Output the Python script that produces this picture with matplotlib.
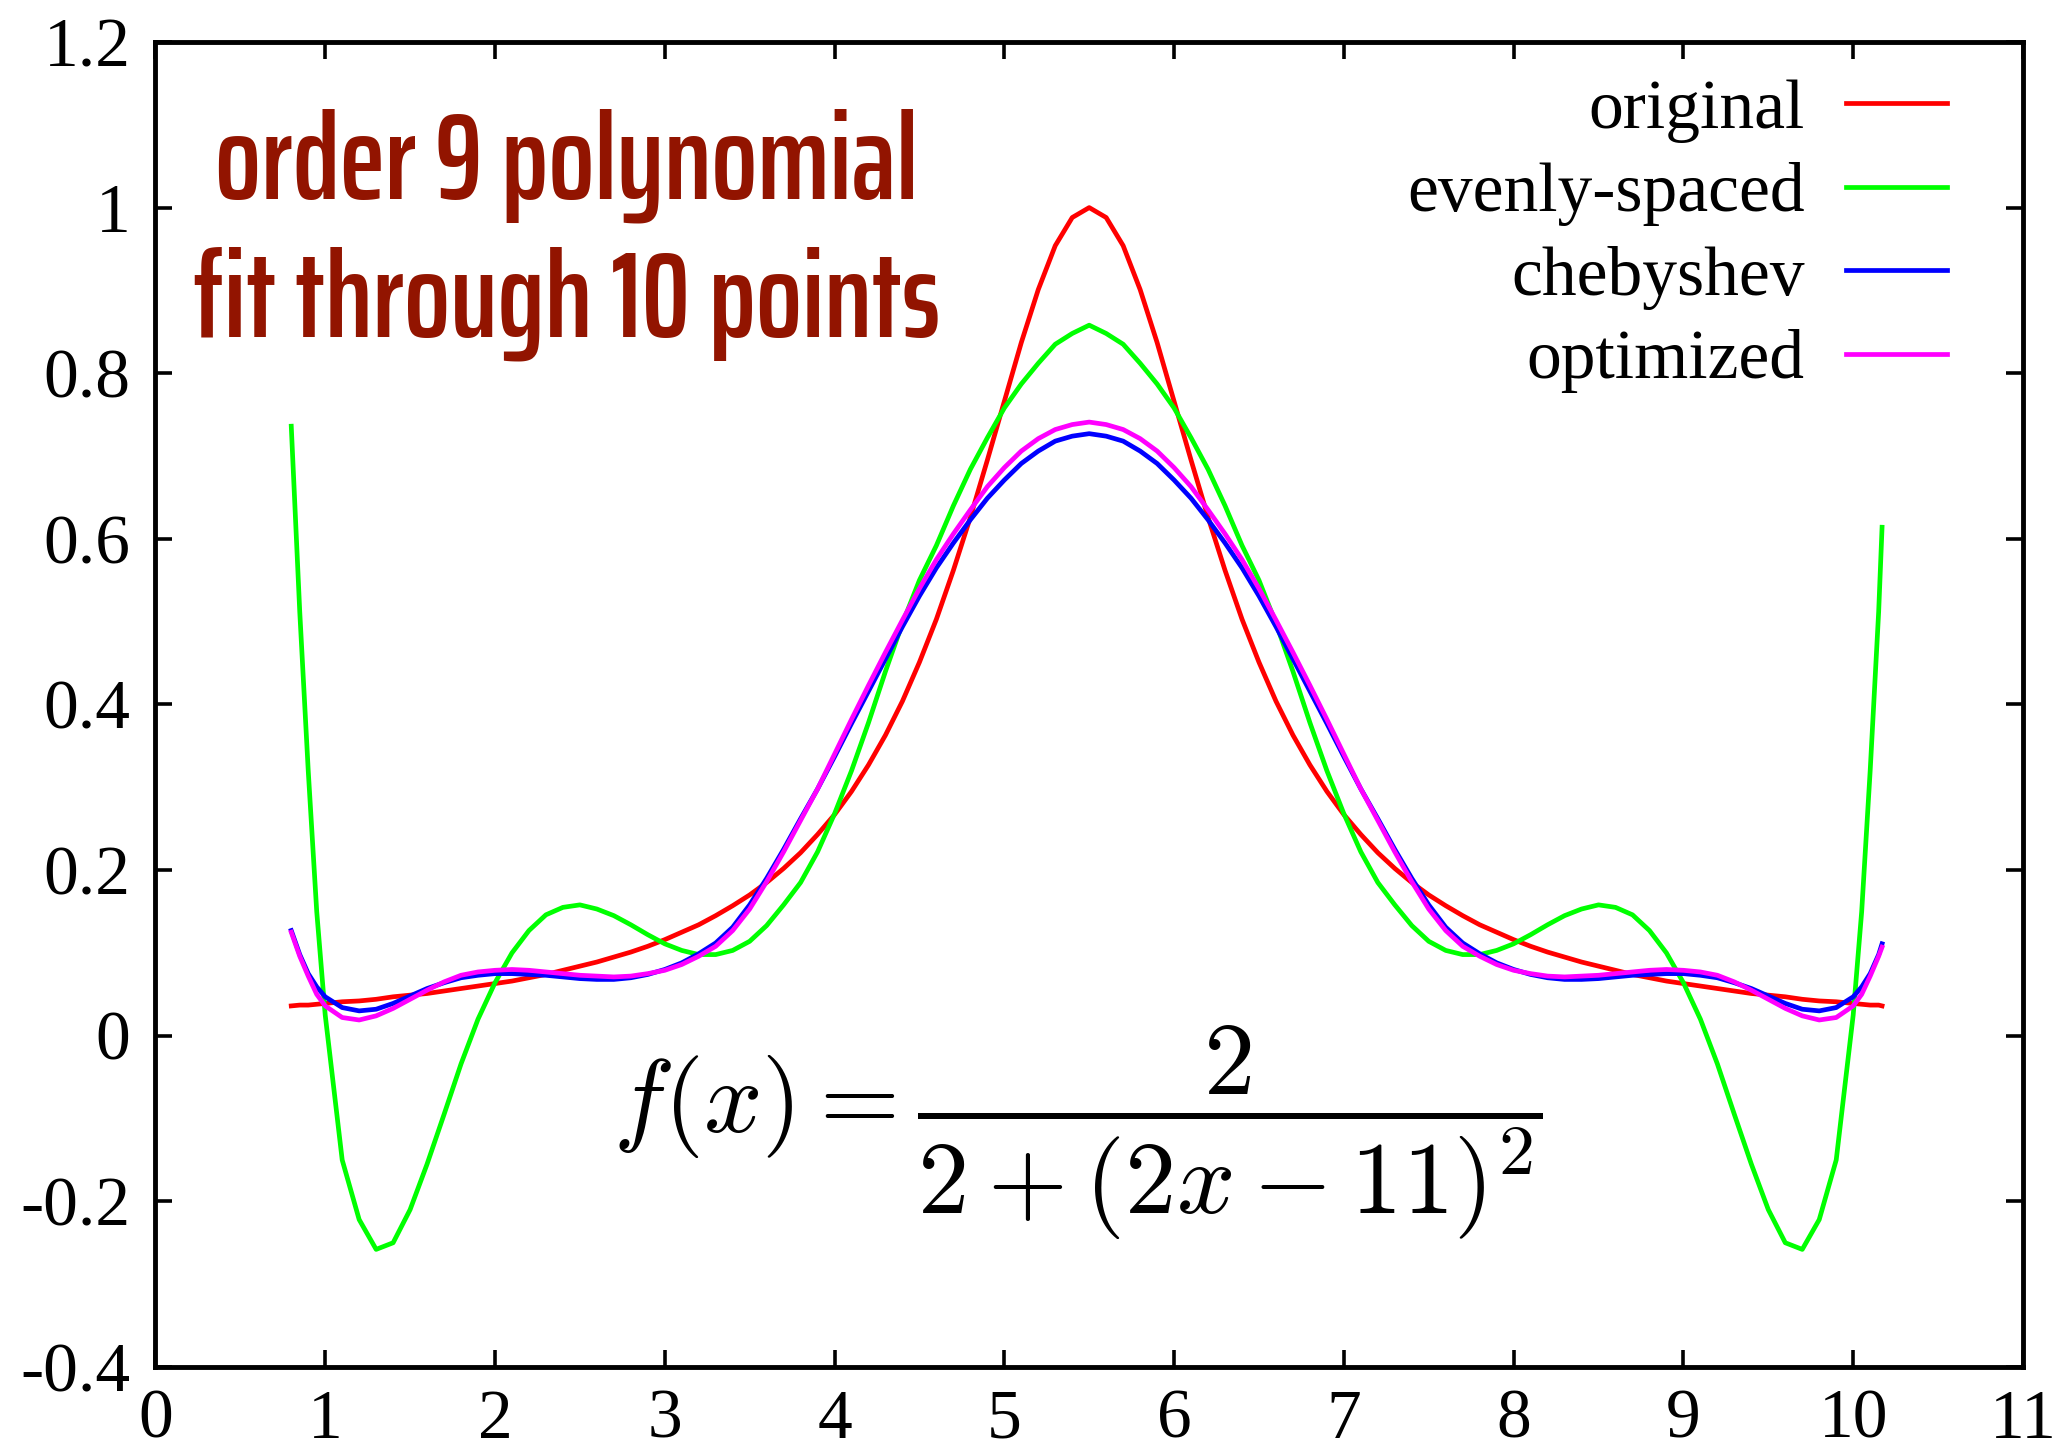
import matplotlib
matplotlib.use('Agg')
import matplotlib.pyplot as plt
import numpy as np
from matplotlib.ticker import FormatStrFormatter

# sample positions (denser near the steep ends)
x = np.r_[0.8, 0.85, 0.9, 0.95, np.round(np.arange(1.0, 10.01, 0.1), 2), 10.05, 10.1, 10.15, 10.17]

original = [
    0.036, 0.037, 0.037, 0.038,
    0.039, 0.041, 0.042, 0.044, 0.047, 0.049, 0.051, 0.054, 0.057, 0.060,
    0.063, 0.066, 0.070, 0.074, 0.079, 0.084, 0.089, 0.095, 0.101, 0.108,
    0.116, 0.125, 0.134, 0.145, 0.157, 0.170, 0.185, 0.202, 0.221, 0.243,
    0.267, 0.295, 0.327, 0.363, 0.404, 0.451, 0.503, 0.562, 0.626, 0.695,
    0.766, 0.837, 0.901, 0.954, 0.988, 1.000,
    0.988, 0.954, 0.901, 0.837, 0.766, 0.695, 0.626, 0.562, 0.503, 0.451,
    0.404, 0.363, 0.327, 0.295, 0.267, 0.243, 0.221, 0.202, 0.185, 0.170,
    0.157, 0.145, 0.134, 0.125, 0.116, 0.108, 0.101, 0.095, 0.089, 0.084,
    0.079, 0.074, 0.070, 0.066, 0.063, 0.060, 0.057, 0.054, 0.051, 0.049,
    0.047, 0.044, 0.042, 0.041, 0.039,
    0.038, 0.037, 0.037, 0.036,
]

evenly_spaced = [
    0.736, 0.512, 0.320, 0.150,
    0.025, -0.150, -0.222, -0.258, -0.250, -0.210, -0.155, -0.095, -0.034, 0.020,
    0.064, 0.100, 0.127, 0.146, 0.155, 0.158, 0.153, 0.145, 0.134, 0.122,
    0.111, 0.103, 0.098, 0.098, 0.103, 0.114, 0.133, 0.158, 0.185, 0.222,
    0.268, 0.320, 0.378, 0.440, 0.498, 0.550, 0.592, 0.640, 0.684, 0.722,
    0.758, 0.787, 0.812, 0.835, 0.848, 0.858,
    0.848, 0.835, 0.812, 0.787, 0.758, 0.722, 0.684, 0.640, 0.592, 0.550,
    0.498, 0.440, 0.378, 0.320, 0.268, 0.222, 0.185, 0.158, 0.133, 0.114,
    0.103, 0.098, 0.098, 0.103, 0.111, 0.122, 0.134, 0.145, 0.153, 0.158,
    0.155, 0.146, 0.127, 0.100, 0.064, 0.020, -0.034, -0.095, -0.155, -0.210,
    -0.250, -0.258, -0.222, -0.150, 0.025,
    0.150, 0.320, 0.512, 0.614,
]

chebyshev = [
    0.127, 0.098, 0.075, 0.059,
    0.047, 0.034, 0.030, 0.032, 0.039, 0.048, 0.057, 0.064, 0.070, 0.073,
    0.075, 0.075, 0.074, 0.073, 0.071, 0.069, 0.068, 0.068, 0.070, 0.074,
    0.080, 0.088, 0.099, 0.112, 0.131, 0.158, 0.190, 0.225, 0.262, 0.298,
    0.337, 0.377, 0.416, 0.455, 0.494, 0.531, 0.565, 0.595, 0.623, 0.649,
    0.671, 0.691, 0.706, 0.718, 0.724, 0.727,
    0.724, 0.718, 0.706, 0.691, 0.671, 0.649, 0.623, 0.595, 0.565, 0.531,
    0.494, 0.455, 0.416, 0.377, 0.337, 0.298, 0.262, 0.225, 0.190, 0.158,
    0.131, 0.112, 0.099, 0.088, 0.080, 0.074, 0.070, 0.068, 0.068, 0.069,
    0.071, 0.073, 0.074, 0.075, 0.075, 0.073, 0.070, 0.064, 0.057, 0.048,
    0.039, 0.032, 0.030, 0.034, 0.047,
    0.059, 0.075, 0.098, 0.111,
]

optimized = [
    0.125, 0.096, 0.072, 0.050,
    0.036, 0.022, 0.019, 0.024, 0.033, 0.044, 0.055, 0.065, 0.073, 0.077,
    0.079, 0.080, 0.079, 0.077, 0.075, 0.073, 0.072, 0.071, 0.072, 0.075,
    0.079, 0.086, 0.096, 0.108, 0.127, 0.153, 0.186, 0.222, 0.260, 0.298,
    0.340, 0.382, 0.423, 0.463, 0.502, 0.540, 0.575, 0.606, 0.635, 0.663,
    0.686, 0.706, 0.721, 0.732, 0.738, 0.741,
    0.738, 0.732, 0.721, 0.706, 0.686, 0.663, 0.635, 0.606, 0.575, 0.540,
    0.502, 0.463, 0.423, 0.382, 0.340, 0.298, 0.260, 0.222, 0.186, 0.153,
    0.127, 0.108, 0.096, 0.086, 0.079, 0.075, 0.072, 0.071, 0.072, 0.073,
    0.075, 0.077, 0.079, 0.080, 0.079, 0.077, 0.073, 0.065, 0.055, 0.044,
    0.033, 0.024, 0.019, 0.022, 0.036,
    0.050, 0.072, 0.096, 0.107,
]

labels = ["original", "evenly-spaced", "chebyshev", "optimized"]
colors = ["#ff0000", "#00ff00", "#0000ff", "#ff00ff"]

x_ticks = list(range(12))
y_ticks = [-0.4, -0.2, 0, 0.2, 0.4, 0.6, 0.8, 1.0, 1.2]

plt.rcParams['font.family'] = ['Liberation Serif', 'DejaVu Serif']
plt.rcParams['mathtext.fontset'] = 'cm'

fig = plt.figure(figsize=(20.67, 14.47), dpi=100)
ax = fig.add_axes([0.0752, 0.0553, 0.9035, 0.9157])

for label, y, color in zip(labels, [original, evenly_spaced, chebyshev, optimized], colors):
    ax.plot(x, y, color=color, lw=3.4, label=label)

ax.set_xlim(0, 11)
ax.set_ylim(-0.4, 1.2)
ax.set_xticks(x_ticks)
ax.set_yticks(y_ticks)
ax.yaxis.set_major_formatter(FormatStrFormatter('%g'))
ax.tick_params(direction='in', length=12, width=2.6, top=True, right=True, labelsize=50)
ax.tick_params(axis='x', pad=16)
ax.tick_params(axis='y', pad=18)
for s in ax.spines.values():
    s.set_linewidth(3.5)

leg = ax.legend(loc='upper right', bbox_to_anchor=(0.9593, 0.972), markerfirst=False,
                frameon=False, fontsize=50, handlelength=1.45, handletextpad=0.6,
                labelspacing=0.28, borderpad=0, borderaxespad=0)
# right-align the label column like gnuplot does
for col in leg._legend_handle_box.get_children():
    col.align = 'right'

title_font = ['Saira ExtraCondensed', 'Barlow Condensed', 'DejaVu Sans']
ax.text(0.2203, 0.8815, 'order 9 polynomial', transform=ax.transAxes, ha='center',
        va='baseline', fontsize=87, fontweight=600, color='#921400', family=title_font)
ax.text(0.2203, 0.7775, 'fit through 10 points', transform=ax.transAxes, ha='center',
        va='baseline', fontsize=87, fontweight=600, color='#921400', family=title_font)

ax.text(5.43, -0.117, r'$f(x) = \dfrac{2}{2+(2x-11)^2}$', fontsize=74, ha='center', va='center')

fig.savefig('out.png', dpi=100)
